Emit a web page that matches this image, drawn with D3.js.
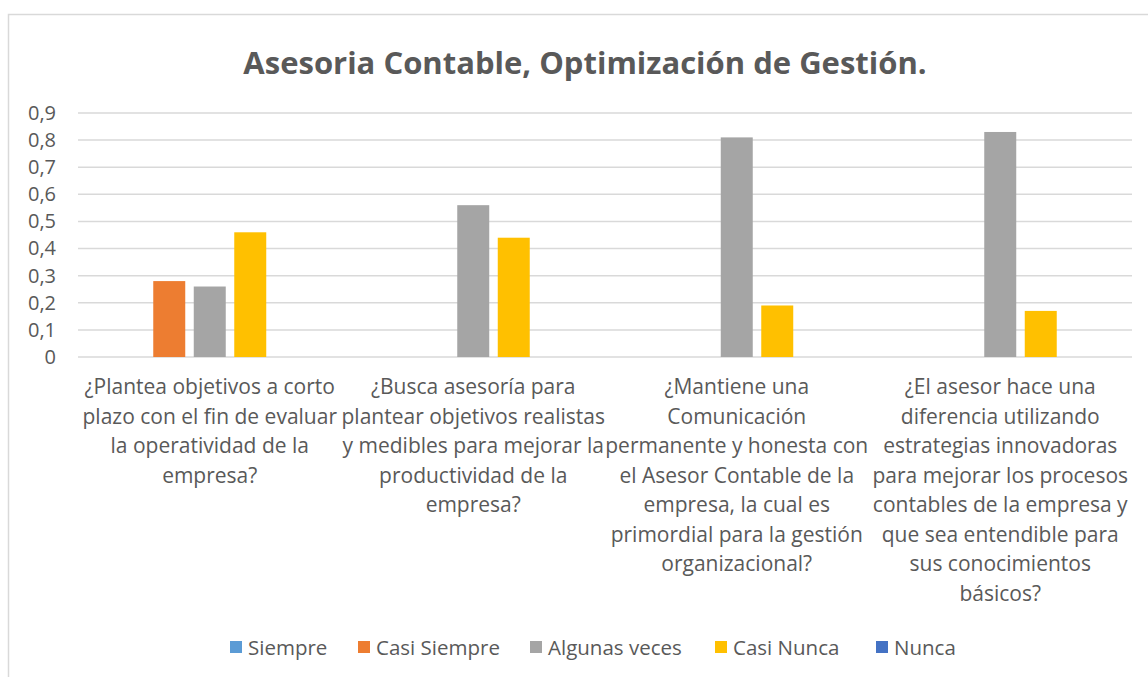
<!DOCTYPE html>
<html>
<head>
<meta charset="utf-8">
<script src="https://cdn.jsdelivr.net/npm/d3@7"></script>
<style>
  html, body { margin: 0; padding: 0; background: #fff; }
  svg { display: block; font-family: "Open Sans", Lato, sans-serif; }
</style>
</head>
<body>
<div id="chart"></div>
<script>
// --- Daten ---
const categories = ['q1', 'q2', 'q3', 'q4'];
const categoryLines = [
  ['¿Plantea objetivos a corto', 'plazo con el fin de evaluar', 'la operatividad de la', 'empresa?'],
  ['¿Busca asesoría para', 'plantear objetivos realistas', 'y medibles para mejorar la', 'productividad de la', 'empresa?'],
  ['¿Mantiene una', 'Comunicación', 'permanente y honesta con', 'el Asesor Contable de la', 'empresa, la cual es', 'primordial para la gestión', 'organizacional?'],
  ['¿El asesor hace una', 'diferencia utilizando', 'estrategias innovadoras', 'para mejorar los procesos', 'contables de la empresa y', 'que sea entendible para', 'sus conocimientos', 'básicos?']
];
const seriesNames = ['Siempre', 'Casi Siempre', 'Algunas veces', 'Casi Nunca', 'Nunca'];
const siempre      = [0, 0, 0, 0];
const casiSiempre  = [0.28, 0, 0, 0];
const algunasVeces = [0.26, 0.56, 0.81, 0.83];
const casiNunca    = [0.46, 0.44, 0.19, 0.17];
const nunca        = [0, 0, 0, 0];
const yTicks = [0, 0.1, 0.2, 0.3, 0.4, 0.5, 0.6, 0.7, 0.8, 0.9];
const title = 'Asesoria Contable, Optimización de Gestión.';

const seriesValues = [siempre, casiSiempre, algunasVeces, casiNunca, nunca];
const colors = ['#5B9BD5', '#ED7D31', '#A5A5A5', '#FFC000', '#4472C4'];

const W = 1148, H = 677;
const plot = { left: 78, right: 1132, top: 113, bottom: 357 };
const textColor = '#595959';
const gridColor = '#D9D9D9';

const svg = d3.select('#chart').append('svg')
  .attr('width', W).attr('height', H);

// Rahmen (oben + links)
svg.append('path')
  .attr('d', `M8.5,${H} L8.5,14.5 L${W},14.5`)
  .attr('fill', 'none')
  .attr('stroke', gridColor)
  .attr('stroke-width', 1.5);

// Titel
svg.append('text')
  .attr('x', 585).attr('y', 74)
  .attr('text-anchor', 'middle')
  .attr('fill', textColor)
  .attr('font-size', 31)
  .attr('font-weight', 700)
  .text(title);

// Skalen
const x0 = d3.scaleBand().domain(categories).range([plot.left, plot.right]);
const groupW = x0.bandwidth() * 0.7685;
const groupOff = (x0.bandwidth() - groupW) / 2;
const x1 = d3.scaleBand().domain(seriesNames)
  .range([groupOff, groupOff + groupW])
  .paddingInner(0.21).paddingOuter(0.105);
const y = d3.scaleLinear().domain([0, 0.9]).range([plot.bottom, plot.top]);

const fmt = d => d === 0 ? '0' : d3.format('.1f')(d).replace('.', ',');

// Gitter
svg.append('g').attr('class', 'grid')
  .selectAll('line')
  .data(yTicks)
  .join('line')
  .attr('x1', plot.left).attr('x2', plot.right)
  .attr('y1', d => y(d)).attr('y2', d => y(d))
  .attr('stroke', gridColor)
  .attr('stroke-width', 1.5);

// Y-Achse
const yAxis = d3.axisLeft(y).tickValues(yTicks).tickFormat(fmt).tickSize(0).tickPadding(0);
svg.append('g')
  .attr('transform', 'translate(56,0)')
  .call(yAxis)
  .call(g => {
    g.select('.domain').remove();
    g.selectAll('text')
      .attr('fill', textColor)
      .attr('font-size', 20)
      .attr('font-family', '"Open Sans", sans-serif');
  });

// Balken
const rows = categories.map((c, i) => ({
  cat: c,
  vals: seriesNames.map((s, j) => ({ s, j, v: seriesValues[j][i] }))
}));

svg.append('g').attr('class', 'bars')
  .selectAll('g')
  .data(rows)
  .join('g')
  .attr('transform', d => `translate(${x0(d.cat)},0)`)
  .selectAll('rect')
  .data(d => d.vals.filter(v => v.v > 0))
  .join('rect')
  .attr('x', d => x1(d.s))
  .attr('width', x1.bandwidth())
  .attr('y', d => y(d.v))
  .attr('height', d => y(0) - y(d.v))
  .attr('fill', d => colors[d.j]);

// Kategorie-Beschriftungen
const lineH = 29.5;
const catG = svg.append('g').attr('class', 'cat-labels');
categories.forEach((c, i) => {
  const t = catG.append('text')
    .attr('text-anchor', 'middle')
    .attr('fill', textColor)
    .attr('font-size', 21)
    .attr('y', 394);
  categoryLines[i].forEach((ln, k) => {
    t.append('tspan')
      .attr('x', x0(c) + x0.bandwidth() / 2)
      .attr('dy', k === 0 ? 0 : lineH)
      .text(ln);
  });
});

// Legende
const legendX = [230, 358, 530, 715, 876];
const leg = svg.append('g').attr('class', 'legend');
seriesNames.forEach((s, j) => {
  const g = leg.append('g').attr('transform', `translate(${legendX[j]},641)`);
  g.append('rect').attr('width', 12).attr('height', 12).attr('fill', colors[j]);
  g.append('text')
    .attr('x', 18).attr('y', 13.5)
    .attr('fill', textColor)
    .attr('font-size', 20.5)
    .text(s);
});
</script>
</body>
</html>
